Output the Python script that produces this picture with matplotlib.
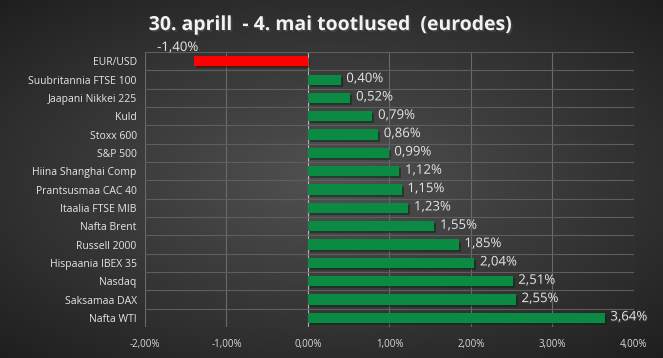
import matplotlib
matplotlib.use("Agg")
import matplotlib.pyplot as plt
import matplotlib.patheffects as pe
import numpy as np

# andmed (ülevalt alla)
categories = ["EUR/USD", "Suubritannia FTSE 100", "Jaapani Nikkei 225", "Kuld",
              "Stoxx 600", "S&P 500", "Hiina Shanghai Comp", "Prantsusmaa CAC 40",
              "Itaalia FTSE MIB", "Nafta Brent", "Russell 2000", "Hispaania IBEX 35",
              "Nasdaq", "Saksamaa DAX", "Nafta WTI"]
values = [-1.40, 0.40, 0.52, 0.79, 0.86, 0.99, 1.12, 1.15, 1.23, 1.55, 1.85,
          2.04, 2.51, 2.55, 3.64]
x_ticks = [-2, -1, 0, 1, 2, 3, 4]
title = "30. aprill  - 4. mai tootlused  (eurodes)"

plt.rcParams['font.family'] = ['Open Sans', 'DejaVu Sans']

fig = plt.figure(figsize=(6.63, 3.58), dpi=100)

# taust: radiaalne gradient
bg = fig.add_axes([0, 0, 1, 1], zorder=-10)
yy, xx = np.mgrid[-1:1:200j, -1:1:370j]
r = np.sqrt((xx * 0.85) ** 2 + (yy * 0.9) ** 2)
shade = 0.32 - 0.21 * np.clip(r, 0, 1.3) / 1.3
bg.imshow(np.dstack([shade] * 3), aspect='auto', extent=[0, 1, 0, 1])
bg.axis('off')

ax = fig.add_axes([0.2187, 0.0866, 0.7375, 0.768])
ax.patch.set_alpha(0)

n = len(categories)
ypos = np.arange(n)
colors = ['#ff0000' if v < 0 else '#0b8a43' for v in values]
shadow = [pe.SimplePatchShadow(offset=(1.5, -1.5), alpha=0.5), pe.Normal()]
bars = ax.barh(ypos, values, height=0.55, color=colors, zorder=3)
for b in bars:
    b.set_path_effects(shadow)

ax.set_xlim(-2, 4)
ax.set_ylim(n - 0.5, -0.5)

# ruudustik
for x in x_ticks:
    ax.axvline(x, color='#6a6a6a' if x != 0 else '#b0b0b0', lw=0.8, zorder=1)
for y in np.arange(-0.5, n, 1):
    ax.axhline(y, color='#5e5e5e', lw=0.8, zorder=1)

for s in ax.spines.values():
    s.set_visible(False)

ax.set_yticks(ypos)
ax.set_yticklabels(categories, fontsize=7.5, color='#e6e6e6')
ax.set_xticks(x_ticks)
ax.set_xticklabels([f"{x:.2f}%".replace('.', ',') for x in x_ticks],
                   fontsize=7, color='#d9d9d9')
ax.tick_params(length=0, pad=6)
ax.tick_params(axis='x', pad=9)

txt_fx = [pe.withSimplePatchShadow(offset=(0.8, -0.8), alpha=0.6)]
for i, v in enumerate(values):
    lab = f"{v:.2f}%".replace('.', ',')
    if v < 0:
        ax.text(v - 0.2, i - 0.75, lab, ha='center', va='center', fontsize=9.5,
                color='#e6e6e6', path_effects=txt_fx)
    else:
        ax.text(v + 0.07, i - 0.05, lab, ha='left', va='center', fontsize=9.5,
                color='#e6e6e6', path_effects=txt_fx)

fig.text(0.5, 0.93, title, ha='center', va='center', fontsize=14,
         fontweight='bold', color='#f2f2f2',
         path_effects=[pe.withSimplePatchShadow(offset=(1.2, -1.2), alpha=0.7)])

fig.savefig("out.png", dpi=100)
